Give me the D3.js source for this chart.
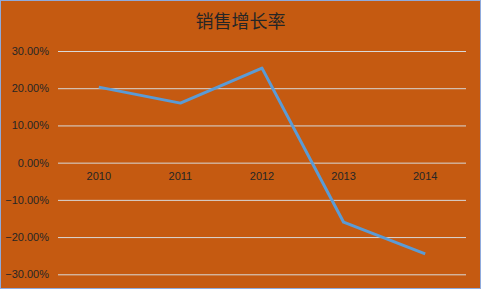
<!DOCTYPE html>
<html>
<head>
<meta charset="utf-8">
<script src="https://cdn.jsdelivr.net/npm/d3@7"></script>
<style>
  body { margin: 0; background: #fff; }
  svg text { font-family: "Liberation Sans", "Noto Sans", sans-serif; }
</style>
</head>
<body>
<svg id="chart"></svg>
<script>
// chart data
const years = ['2010', '2011', '2012', '2013', '2014'];
const growth = [0.203, 0.160, 0.254, -0.160, -0.245];
const yTicks = [0.3, 0.2, 0.1, 0, -0.1, -0.2, -0.3];
const title = '销售增长率';

const W = 481, H = 289;
const margin = {top: 51, right: 15, bottom: 15, left: 58};

const svg = d3.select('#chart')
    .attr('width', W)
    .attr('height', H);

// background + border
svg.append('rect')
    .attr('x', 0.5).attr('y', 0.5)
    .attr('width', W - 1).attr('height', H - 1)
    .attr('fill', '#C55A11')
    .attr('stroke', '#8FAADC')
    .attr('stroke-width', 1);

svg.append('text')
    .attr('x', W / 2)
    .attr('y', 28)
    .attr('text-anchor', 'middle')
    .attr('font-size', 18)
    .attr('fill', '#262626')
    .style('font-family', '"Noto Sans CJK SC", sans-serif')
    .text(title);

const x = d3.scaleBand()
    .domain(years)
    .range([58, 466]);

const y = d3.scaleLinear()
    .domain([-0.3, 0.3])
    .range([274.3, 51]);

const fmt = d => d3.format('.2f')(d * 100) + '%';

// y axis (gridlines + labels)
const yAxis = d3.axisLeft(y)
    .tickValues(yTicks)
    .tickFormat(fmt)
    .tickSize(-(466 - 58))
    .tickPadding(9);

const yG = svg.append('g')
    .attr('transform', 'translate(58,0)')
    .call(yAxis);
yG.select('.domain').remove();
yG.selectAll('.tick line')
    .attr('stroke', '#D9D9D9')
    .attr('stroke-width', 1);
yG.selectAll('.tick text')
    .attr('fill', '#262626')
    .attr('font-size', 11);

// x axis labels sit just under the zero line
const xAxis = d3.axisBottom(x)
    .tickSize(0)
    .tickPadding(10);

const xG = svg.append('g')
    .attr('transform', `translate(0,${y(0)})`)
    .call(xAxis);
xG.select('.domain').remove();
xG.selectAll('.tick text')
    .attr('fill', '#262626')
    .attr('font-size', 11);

// the line
const line = d3.line()
    .x((d, i) => x(years[i]) + x.bandwidth() / 2)
    .y(d => y(d));

svg.append('path')
    .datum(growth)
    .attr('fill', 'none')
    .attr('stroke', '#5B9BD5')
    .attr('stroke-width', 3)
    .attr('stroke-linejoin', 'round')
    .attr('d', line);
</script>
</body>
</html>
